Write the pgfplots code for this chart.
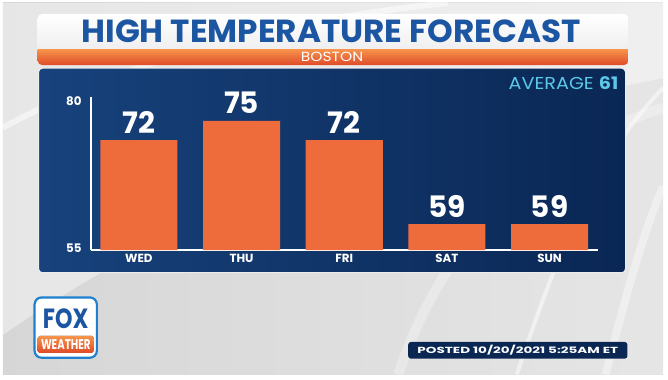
\documentclass[border=0pt]{standalone}
\usepackage{pgfplots}
\pgfplotsset{compat=1.18}
\usepackage{pgfplotstable}
\usepackage{fontspec}
\setmainfont{Poppins}
\definecolor{navy}{HTML}{0A2754}
\definecolor{navyl}{HTML}{17427C}
\definecolor{barc}{HTML}{EE6B3B}
\definecolor{titleblue}{HTML}{1C56A2}
\definecolor{orangetop}{HTML}{F6934C}
\definecolor{orangebot}{HTML}{DF4A28}
\definecolor{cyanish}{HTML}{5CC8E8}
\definecolor{logoblue}{HTML}{1F80D0}
\pgfplotstableread{
x temp
0 72
1 75
2 72
3 59
4 59
}\temps
\begin{document}
\begin{tikzpicture}[x=1bp,y=1bp]
% background
\shade[left color=gray!32, right color=gray!20] (0,0) rectangle (668,376);
\fill[white,opacity=0.4] (0,40) .. controls (200,180) and (420,250) .. (668,300) -- (668,376) -- (0,376) -- cycle;
\draw[white,opacity=0.5,line width=6bp] (0,250) .. controls (150,330) and (300,360) .. (450,376);
\draw[white,opacity=0.5,line width=4bp] (520,0) .. controls (560,120) and (600,220) .. (668,290);
\draw[white,opacity=0.4,line width=8bp] (610,0) .. controls (630,80) and (650,150) .. (668,190);
\draw[white,opacity=0.3,line width=10bp] (400,0) .. controls (440,120) and (520,220) .. (668,270);
% title panel
\begin{scope}
\clip[rounded corners=5bp] (35,313) rectangle (633,365);
\shade[top color=white, bottom color=blue!5!gray!12] (35,329) rectangle (633,365);
\shade[top color=orangetop, bottom color=orangebot] (35,313) rectangle (633,329);
\end{scope}
\node[inner sep=0, text=titleblue] at (332,347) {\resizebox{505bp}{23bp}{\bfseries HIGH TEMPERATURE FORECAST}};
\node[inner sep=0, text=white] at (333,321) {\resizebox{63bp}{9.5bp}{BOSTON}};
% navy panel
\shade[rounded corners=4bp, left color=navyl, right color=navy, draw=white!85!gray, line width=1bp] (36,103) rectangle (630,310);
\node[inner sep=0, anchor=east, text=cyanish] at (623,295) {\resizebox{111bp}{13bp}{AVERAGE \bfseries 61}};
% logo
\filldraw[rounded corners=7bp, fill=white, draw=logoblue, line width=2.2bp] (32,17) rectangle (95,78);
\fill[rounded corners=2bp, top color=orangetop, bottom color=orangebot] (35,22) rectangle (92,39);
\node[inner sep=0, text=titleblue] at (63.5,56) {\resizebox{46bp}{20bp}{\bfseries FOX}};
\node[inner sep=0, text=white] at (63.5,30.5) {\resizebox{50bp}{10bp}{\bfseries WEATHER}};
% posted box
\fill[rounded corners=3bp, navy] (410,16) rectangle (632,33);
\node[inner sep=0, text=white] at (521,24.5) {\resizebox{203bp}{8.5bp}{\bfseries POSTED 10/20/2021 5:25AM ET}};
% bars
\begin{axis}[at={(89bp,126bp)}, anchor=south west, scale only axis,
  width=513bp, height=155bp,
  xmin=-0.467, xmax=4.47, ymin=55, ymax=78.7,
  axis x line*=bottom, axis y line*=left,
  axis line style={white, line width=1.4bp, -},
  xtick={0,1,2,3,4}, xticklabels={WED,THU,FRI,SAT,SUN},
  ytick={55.3,78.1}, yticklabels={55,80},
  major tick length=0pt, tick style={draw=none},
  tick label style={white, font=\bfseries\fontsize{12}{12}\selectfont},
  xticklabel style={yshift=-1bp},
  yticklabel style={xshift=-6bp},
]
\addplot[ybar, bar width=78bp, fill=barc, draw=none] table[x=x, y=temp] {\temps};
\end{axis}
\begin{axis}[at={(89bp,126bp)}, anchor=south west, scale only axis,
  width=513bp, height=155bp,
  xmin=-0.467, xmax=4.47, ymin=55, ymax=78.7,
  hide axis, clip=false,
  /pgf/number format/assume math mode=true]
\addplot[draw=none, mark=none, nodes near coords,
  nodes near coords style={white, inner sep=0, anchor=base, yshift=7bp, font=\bfseries\fontsize{30}{30}\selectfont}]
  table[x=x, y=temp] {\temps};
\end{axis}
\end{tikzpicture}
\end{document}
